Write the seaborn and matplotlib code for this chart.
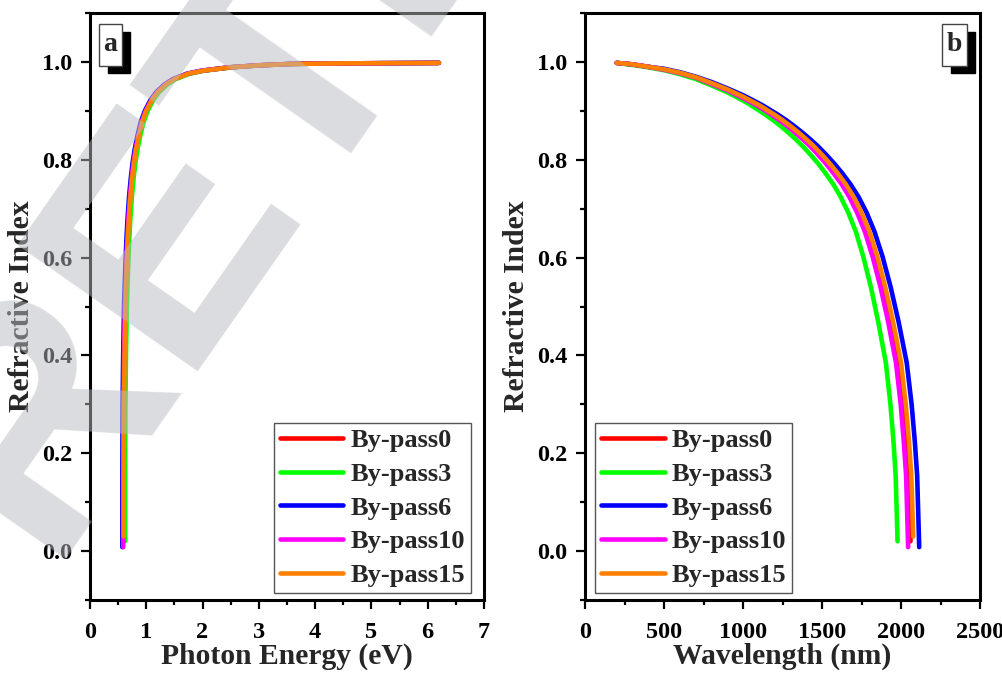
import matplotlib
matplotlib.use("Agg")
import matplotlib.pyplot as plt
import pandas as pd
import seaborn as sns
from matplotlib.ticker import MultipleLocator
from matplotlib.patches import Rectangle
from matplotlib.lines import Line2D

series = ["By-pass0", "By-pass3", "By-pass6", "By-pass10", "By-pass15"]
colors = ["#ff0000", "#00ff00", "#0000ff", "#ff00ff", "#ff8000"]

# (a) refractive index against photon energy (eV)
n_energy_grid = [0.15, 0.30, 0.40, 0.50, 0.57, 0.63, 0.675, 0.725, 0.762, 0.792, 0.822, 0.850,
                 0.878, 0.900, 0.922, 0.938, 0.954, 0.965, 0.976, 0.982, 0.989, 0.993, 0.996,
                 0.997, 0.998]
n_energy_end = {"By-pass0": 0.020, "By-pass3": 0.020, "By-pass6": 0.008,
                "By-pass10": 0.008, "By-pass15": 0.030}
energy = {
    "By-pass0":  [0.600, 0.600, 0.605, 0.615, 0.630, 0.650, 0.670, 0.690, 0.720, 0.750, 0.780, 0.820, 0.870,
                  0.930, 1.000, 1.100, 1.200, 1.350, 1.500, 1.750, 2.000, 2.500, 3.000, 3.600, 4.500, 6.200],
    "By-pass3":  [0.625, 0.625, 0.630, 0.640, 0.655, 0.675, 0.695, 0.715, 0.745, 0.775, 0.805, 0.845, 0.895,
                  0.955, 1.025, 1.125, 1.225, 1.375, 1.525, 1.775, 2.025, 2.525, 3.025, 3.625, 4.525, 6.200],
    "By-pass6":  [0.575, 0.575, 0.580, 0.590, 0.605, 0.625, 0.645, 0.665, 0.695, 0.725, 0.755, 0.795, 0.845,
                  0.905, 0.975, 1.075, 1.175, 1.325, 1.475, 1.725, 1.975, 2.475, 2.975, 3.575, 4.475, 6.200],
    "By-pass10": [0.590, 0.590, 0.595, 0.605, 0.620, 0.640, 0.660, 0.680, 0.710, 0.740, 0.770, 0.810, 0.860,
                  0.920, 0.990, 1.090, 1.190, 1.340, 1.490, 1.740, 1.990, 2.490, 2.990, 3.590, 4.490, 6.200],
    "By-pass15": [0.600, 0.600, 0.605, 0.615, 0.630, 0.650, 0.670, 0.690, 0.720, 0.750, 0.780, 0.820, 0.870,
                  0.930, 1.000, 1.100, 1.200, 1.350, 1.500, 1.750, 2.000, 2.500, 3.000, 3.600, 4.500, 6.200],
}

# (b) refractive index against wavelength (nm)
wavelength = {
    "By-pass0":  [200, 300, 400, 500, 600, 700, 800, 900, 1000,
                  1090, 1140, 1189, 1239, 1288, 1338, 1387, 1437, 1487, 1536, 1586, 1635, 1685,
                  1734, 1784, 1833, 1883, 1932, 1982, 2012, 2032, 2047, 2060],
    "By-pass3":  [200, 300, 400, 500, 600, 700, 800, 900, 1000,
                  1047, 1095, 1142, 1190, 1238, 1285, 1333, 1380, 1428, 1476, 1523, 1571, 1618,
                  1666, 1714, 1761, 1809, 1856, 1904, 1933, 1952, 1966, 1978],
    "By-pass6":  [200, 300, 400, 500, 600, 700, 800, 900, 1000,
                  1120, 1171, 1222, 1273, 1323, 1374, 1425, 1476, 1527, 1578, 1629, 1680, 1731,
                  1782, 1832, 1883, 1934, 1985, 2036, 2067, 2087, 2102, 2115],
    "By-pass10": [200, 300, 400, 500, 600, 700, 800, 900, 1000,
                  1082, 1132, 1181, 1230, 1279, 1328, 1378, 1427, 1476, 1525, 1574, 1624, 1673,
                  1722, 1771, 1820, 1870, 1919, 1968, 1998, 2017, 2032, 2045],
    "By-pass15": [200, 300, 400, 500, 600, 700, 800, 900, 1000,
                  1100, 1150, 1200, 1250, 1300, 1350, 1400, 1450, 1500, 1550, 1600, 1650, 1700,
                  1750, 1800, 1850, 1900, 1950, 2000, 2030, 2050, 2065, 2077],
}
n_wavelength = {
    "By-pass0":  [0.998, 0.995, 0.990, 0.985, 0.977, 0.968, 0.956, 0.943, 0.928],
    "By-pass3":  [0.998, 0.994, 0.989, 0.983, 0.975, 0.965, 0.952, 0.938, 0.921],
    "By-pass6":  [0.998, 0.995, 0.990, 0.986, 0.979, 0.970, 0.959, 0.946, 0.932],
    "By-pass10": [0.998, 0.995, 0.990, 0.984, 0.977, 0.968, 0.955, 0.942, 0.926],
    "By-pass15": [0.998, 0.995, 0.990, 0.985, 0.978, 0.969, 0.957, 0.944, 0.929],
}
# shared levels below n = 0.92, then the end point of each curve
n_wavelength_grid = [0.912, 0.902, 0.892, 0.881, 0.869, 0.856, 0.842, 0.827, 0.810, 0.792, 0.772,
                     0.750, 0.724, 0.692, 0.653, 0.602, 0.540, 0.468, 0.385, 0.300, 0.225, 0.155]
n_wavelength_end = {"By-pass0": 0.020, "By-pass3": 0.020, "By-pass6": 0.008,
                    "By-pass10": 0.008, "By-pass15": 0.030}


def energy_table():
    rows = []
    for s in series:
        ns = [n_energy_end[s]] + n_energy_grid
        for x, y in zip(energy[s], ns):
            rows.append({"E": x, "n": y, "series": s})
    return pd.DataFrame(rows)


def wavelength_table():
    rows = []
    for s in series:
        ns = n_wavelength[s] + n_wavelength_grid + [n_wavelength_end[s]]
        for x, y in zip(wavelength[s], ns):
            rows.append({"wl": x, "n": y, "series": s})
    return pd.DataFrame(rows)


df_e = energy_table()
df_w = wavelength_table()

sns.set_theme(style="ticks")
plt.rcParams.update({
    "font.family": ["Liberation Serif", "DejaVu Serif"],
    "font.weight": "bold",
    "axes.labelweight": "bold",
    "axes.linewidth": 2.2,
    "xtick.major.width": 1.6, "ytick.major.width": 1.6,
    "xtick.minor.width": 1.6, "ytick.minor.width": 1.6,
    "xtick.major.size": 6.5, "ytick.major.size": 6.5,
    "xtick.minor.size": 3.5, "ytick.minor.size": 3.5,
    "xtick.direction": "out", "ytick.direction": "out",
    "xtick.color": "black", "ytick.color": "black",
    "axes.edgecolor": "black",
})

fig = plt.figure(figsize=(10.03, 6.74), dpi=100)
ax_a = fig.add_axes([0.0897, 0.1098, 0.3928, 0.8709])
ax_b = fig.add_axes([0.5833, 0.1098, 0.3938, 0.8709])

palette = dict(zip(series, colors))
for ax, df, xcol in ((ax_a, df_e, "E"), (ax_b, df_w, "wl")):
    sns.lineplot(data=df, x=xcol, y="n", hue="series", hue_order=series,
                 palette=palette, sort=False, estimator=None, units="series",
                 linewidth=3.3, ax=ax, legend=False)
    for ln in ax.get_lines():
        ln.set_solid_capstyle("round")
        ln.set_solid_joinstyle("round")

ax_a.set_xlim(0, 7)
ax_b.set_xlim(0, 2500)
ax_a.xaxis.set_major_locator(MultipleLocator(1))
ax_a.xaxis.set_minor_locator(MultipleLocator(0.5))
ax_b.xaxis.set_major_locator(MultipleLocator(500))
ax_b.xaxis.set_minor_locator(MultipleLocator(250))
ax_a.set_xlabel("Photon Energy (eV)", fontsize=21.3, labelpad=0)
ax_b.set_xlabel("Wavelength (nm)", fontsize=21.3, labelpad=0)

legend_anchor = {ax_a: ("lower right", (0.967, 0.012)), ax_b: ("lower left", (0.025, 0.012))}
for ax in (ax_a, ax_b):
    ax.set_ylim(-0.1, 1.1)
    ax.yaxis.set_major_locator(MultipleLocator(0.2))
    ax.yaxis.set_minor_locator(MultipleLocator(0.1))
    ax.set_yticks([0.0, 0.2, 0.4, 0.6, 0.8, 1.0])
    ax.set_ylabel("Refractive Index", fontsize=21.3, labelpad=5)
    ax.tick_params(axis="both", which="both", top=False, right=False, labelsize=17.5)
    ax.tick_params(axis="x", which="major", pad=9)
    ax.tick_params(axis="y", which="major", pad=6)
    for lab in ax.get_xticklabels() + ax.get_yticklabels():
        lab.set_fontweight("bold")
    for sp in ax.spines.values():
        sp.set_visible(True)
        sp.set_linewidth(2.2)
        sp.set_color("black")
    handles = [Line2D([], [], color=c, linewidth=3.3) for c in colors]
    loc, anchor = legend_anchor[ax]
    leg = ax.legend(handles, series, loc=loc, bbox_to_anchor=anchor,
                    frameon=True, fancybox=False, framealpha=1, edgecolor="#555555",
                    prop={"family": "Liberation Serif", "weight": "bold", "size": 19},
                    handlelength=2.42, handletextpad=0.27, labelspacing=0.39,
                    borderpad=0.22, borderaxespad=0)
    leg.get_frame().set_linewidth(1.0)

# panel tags with a drop shadow
tags = [(ax_a, "a", (0.0457, 0.8978, 0.0558, 0.0698), (0.0228, 0.9097, 0.0584, 0.0716)),
        (ax_b, "b", (0.9266, 0.8978, 0.0607, 0.0698), (0.9038, 0.9097, 0.0633, 0.0716))]
for ax, t, sh, bx in tags:
    ax.add_patch(Rectangle(sh[:2], sh[2], sh[3], transform=ax.transAxes,
                           facecolor="black", edgecolor="black", zorder=5, clip_on=False))
    ax.add_patch(Rectangle(bx[:2], bx[2], bx[3], transform=ax.transAxes,
                           facecolor="white", edgecolor="#444444", linewidth=1.0, zorder=6,
                           clip_on=False))
    ax.text(bx[0] + bx[2] / 2, bx[1] + bx[3] / 2, t, transform=ax.transAxes,
            ha="center", va="center", fontsize=20, fontweight="bold", zorder=7)

# diagonal stamp across the left half
fig.text(0.045, 0.17, "RETRACTED", rotation=55, rotation_mode="anchor",
         ha="left", va="baseline", fontsize=230, fontweight="bold",
         family="Liberation Sans", color=(0.72, 0.73, 0.75), alpha=0.5, zorder=100)

fig.savefig("out.png", dpi=100)
